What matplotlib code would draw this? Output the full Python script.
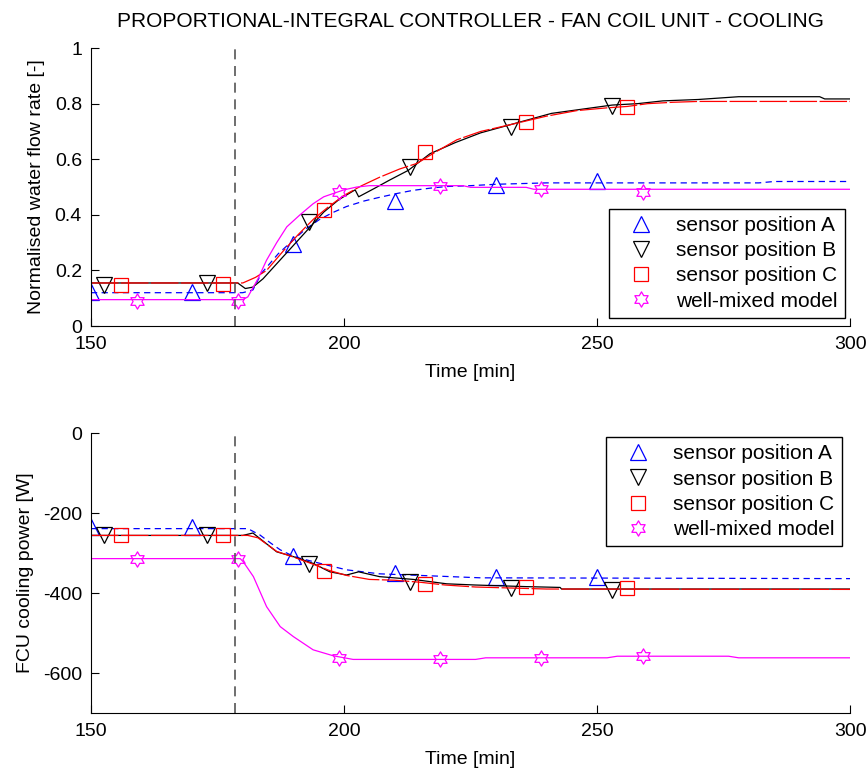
import numpy as np
import matplotlib
matplotlib.use("Agg")
import matplotlib.pyplot as plt
from matplotlib.lines import Line2D
from matplotlib.path import Path

plt.rcParams["font.family"] = ["Liberation Sans", "DejaVu Sans"]
plt.rcParams["axes.unicode_minus"] = False

TITLE = "PROPORTIONAL-INTEGRAL CONTROLLER - FAN COIL UNIT - COOLING"
LABELS = ["sensor position A", "sensor position B", "sensor position C", "well-mixed model"]
STEP_TIME = 178.5

# ---- top panel: normalised water flow rate ----
flow_t_a = [150, 180, 182, 183.7, 187, 190, 192.5, 195.3, 198, 200.5, 204, 207, 210.5, 213.6,
            217, 220.3, 225, 230, 240, 250, 260, 270, 282, 285, 300]
flow_a = [0.12, 0.12, 0.13, 0.19, 0.26, 0.31, 0.35, 0.385, 0.41, 0.43, 0.45, 0.463, 0.477, 0.488,
          0.496, 0.502, 0.505, 0.51, 0.515, 0.515, 0.515, 0.515, 0.515, 0.52, 0.52]

flow_t_b = [150, 179, 180.5, 182, 184, 187, 190, 193, 196, 199, 202.2, 202.9, 206, 209, 212.7,
            217, 222, 227, 233, 241, 247, 253, 258, 263, 270, 278, 285, 294, 295, 300]
flow_b = [0.155, 0.155, 0.135, 0.14, 0.17, 0.23, 0.29, 0.35, 0.41, 0.455, 0.49, 0.465, 0.495,
          0.525, 0.56, 0.62, 0.66, 0.695, 0.725, 0.765, 0.78, 0.795, 0.80, 0.81, 0.815, 0.825,
          0.825, 0.825, 0.817, 0.817]

flow_t_c = [150, 180, 182.5, 184.7, 188, 191, 194, 197, 200, 203.5, 207, 211, 214.4, 218, 222.3,
            227, 233, 240, 246, 252, 256, 260, 265, 270, 300]
flow_c = [0.155, 0.155, 0.175, 0.20, 0.27, 0.33, 0.385, 0.43, 0.47, 0.505, 0.535, 0.565, 0.585,
          0.625, 0.67, 0.70, 0.725, 0.755, 0.775, 0.785, 0.79, 0.80, 0.805, 0.808, 0.808]

flow_t_wm = [150, 180, 181, 183, 184.7, 186.7, 188.7, 191.3, 193.9, 196, 197.9, 200, 202.5, 205,
             223.5, 225, 236, 237.5, 300]
flow_wm = [0.095, 0.095, 0.105, 0.17, 0.237, 0.30, 0.357, 0.40, 0.44, 0.465, 0.477, 0.49, 0.50,
           0.505, 0.505, 0.499, 0.499, 0.492, 0.492]

# marker samples (every 20 min, staggered per series)
mk_t_a = [150, 170, 190, 210, 230, 250]
mk_t_b = [152.5, 173, 193, 213, 233, 253]
mk_t_c = [156, 176, 196, 216, 236, 256]
mk_t_wm = [159, 179, 199, 219, 239, 259]

flow_mk_a = [0.122, 0.122, 0.295, 0.45, 0.507, 0.52]
flow_mk_b = [0.147, 0.155, 0.374, 0.572, 0.716, 0.79]
flow_mk_c = [0.147, 0.153, 0.417, 0.625, 0.734, 0.787]
flow_mk_wm = [0.091, 0.091, 0.483, 0.505, 0.492, 0.483]

# ---- bottom panel: FCU cooling power ----
pow_t_a = [150, 181, 183.4, 185.5, 187.4, 189.5, 191.3, 195.3, 200.5, 207, 217, 227, 300]
pow_a = [-239, -239, -255, -275, -292, -305, -313, -326, -342, -352, -357, -362, -364]

pow_t_b = [150, 180, 182, 184, 186.7, 190, 193.9, 197.2, 200.5, 202.9, 207, 213.7, 220.3, 226,
           236, 242.7, 243, 300]
pow_b = [-256, -256, -250, -270, -297, -309, -326, -347, -355, -347, -359, -366, -377, -380,
         -384, -386, -390, -390]

pow_t_c = [150, 181, 183, 186.7, 190, 193.9, 197.2, 200.5, 205, 210, 215, 220, 226, 240, 300]
pow_c = [-256, -256, -262, -296, -310, -328, -344, -356, -366, -368, -373, -380, -385, -390, -391]

pow_t_wm = [150, 179.5, 180.1, 182.1, 184.7, 187.4, 190, 193.9, 197.9, 201.8, 226, 228, 252, 254,
            276, 278, 300]
pow_wm = [-314, -314, -322, -359, -434, -484, -509, -542, -557, -566, -566, -562, -562, -558,
          -558, -562, -562]

pow_mk_a = [-234, -235, -307, -349, -359, -359]
pow_mk_b = [-255, -255, -327, -372, -388, -392]
pow_mk_c = [-256, -256, -344, -377, -386, -388]
pow_mk_wm = [-315, -315, -562, -566, -562, -557]


def hexagram():
    # star of David marker (MATLAB 'hexagram')
    ang = np.pi / 2 + np.arange(12) * np.pi / 6
    rad = np.where(np.arange(12) % 2 == 0, 1.0, 1 / np.sqrt(3))
    verts = np.column_stack([rad * np.cos(ang), rad * np.sin(ang)])
    verts = np.vstack([verts, verts[:1]])
    return Path(verts, closed=True)


HEX = hexagram()

SERIES_STYLE = [
    dict(color="#0000FF", ls=(0, (5, 3.5)), marker="^", ms=12),
    dict(color="#000000", ls="-", marker="v", ms=12),
    dict(color="#FF0000", ls=(0, (22, 2)), marker="s", ms=10),
    dict(color="#FF00FF", ls="-", marker=HEX, ms=11),
]

FS = 14


def draw_panel(ax, lines, markers, ylim, yticks, ylabel, legend_loc, legend_anchor,
               ylabelpad):
    for (tt, yy), (mt, my), st in zip(lines, markers, SERIES_STYLE):
        ax.plot(tt, yy, color=st["color"], ls=st["ls"], lw=0.9)
        ax.plot(mt, my, ls="none", marker=st["marker"], ms=st["ms"], mfc="none",
                mec=st["color"], mew=0.9)
    ax.axvline(STEP_TIME, color="#555555", ls=(0, (6, 4)), lw=1.2)

    ax.set_xlim(150, 300)
    ax.set_ylim(*ylim)
    ax.set_xticks([150, 200, 250, 300])
    ax.set_yticks(yticks)
    ax.spines["top"].set_visible(False)
    ax.spines["right"].set_visible(False)
    ax.tick_params(direction="in", length=6, labelsize=FS)
    ax.tick_params(axis="x", pad=7)
    ax.tick_params(axis="y", pad=6.5)
    ax.set_xlabel("Time [min]", fontsize=FS, labelpad=8)
    ax.set_ylabel(ylabel, fontsize=FS, labelpad=ylabelpad)

    handles = [Line2D([], [], ls="none", marker=st["marker"], ms=st["ms"], mfc="none",
                      mec=st["color"], mew=0.9) for st in SERIES_STYLE]
    leg = ax.legend(handles, LABELS, loc=legend_loc, bbox_to_anchor=legend_anchor,
                    fontsize=15, fancybox=False, framealpha=1, edgecolor="black",
                    borderaxespad=0, labelspacing=0.3, handlelength=2.4, handletextpad=0.5,
                    borderpad=0.35)
    leg.get_frame().set_linewidth(1.0)


fig = plt.figure(figsize=(8.68, 7.69), dpi=100)
ax1 = fig.add_axes([0.1048, 0.576, 0.8745, 0.3615])
ax2 = fig.add_axes([0.1048, 0.0728, 0.8745, 0.3641])

draw_panel(ax1,
           [(flow_t_a, flow_a), (flow_t_b, flow_b), (flow_t_c, flow_c), (flow_t_wm, flow_wm)],
           [(mk_t_a, flow_mk_a), (mk_t_b, flow_mk_b), (mk_t_c, flow_mk_c), (mk_t_wm, flow_mk_wm)],
           (0, 1), [0, 0.2, 0.4, 0.6, 0.8, 1], "Normalised water flow rate [-]",
           "lower right", (0.9934, 0.029), 7)
ax1.set_yticklabels(["0", "0.2", "0.4", "0.6", "0.8", "1"])
ax1.set_title(TITLE, fontsize=15, pad=15)

draw_panel(ax2,
           [(pow_t_a, pow_a), (pow_t_b, pow_b), (pow_t_c, pow_c), (pow_t_wm, pow_wm)],
           [(mk_t_a, pow_mk_a), (mk_t_b, pow_mk_b), (mk_t_c, pow_mk_c), (mk_t_wm, pow_mk_wm)],
           (-700, 0), [-600, -400, -200, 0], "FCU cooling power [W]",
           "upper right", (0.9895, 0.9857), 6)

fig.savefig("out.png", dpi=100)
